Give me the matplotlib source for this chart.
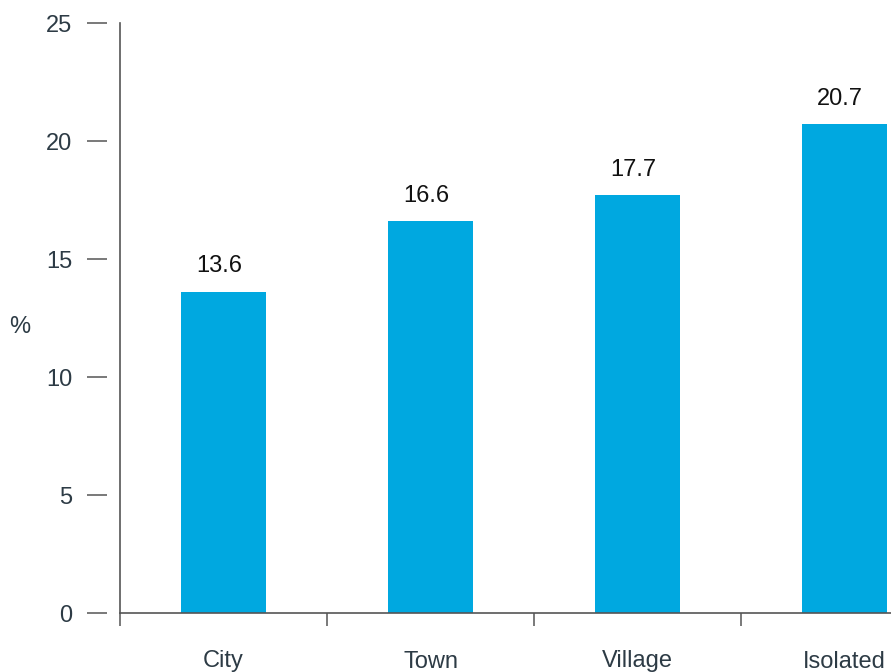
import matplotlib
matplotlib.use("Agg")
import matplotlib.pyplot as plt
import numpy as np

categories = ["City", "Town", "Village", "Isolated"]
values = [13.6, 16.6, 17.7, 20.7]
yticks = [0, 5, 10, 15, 20, 25]

plt.rcParams['font.family'] = ['Liberation Sans', 'DejaVu Sans']

BAR = "#00a8e0"
AXC = "#555555"
TXT = "#2d3b45"
FS = 17

fig = plt.figure(figsize=(8.91, 6.72), dpi=100)
ax = fig.add_axes([120/891, (672-613)/672, 771/891, (613-23)/672])

x = np.arange(len(categories))
ax.bar(x, values, width=0.41, color=BAR, zorder=2)

for xi, v in zip(x, values):
    ax.annotate(f"{v:.1f}", (xi, v), xytext=(-3, 18.5), textcoords="offset points",
                ha="center", va="center", fontsize=FS, color="#111111")

ax.set_xlim(-0.5, -0.5 + 771/207)
ax.set_ylim(0, 25)

# y axis: ticks offset from the visible axis line
ax.spines['left'].set_position(('outward', 9.4))
ax.spines['left'].set_color('none')
ax.axvline(-0.5, color=AXC, lw=1.2, clip_on=False, zorder=3)
ax.set_yticks(yticks)
ax.tick_params(axis='y', direction='out', length=14.5, width=1.1, color=AXC,
               labelsize=FS, labelcolor=TXT, pad=10.5)

ax.spines['top'].set_visible(False)
ax.spines['right'].set_visible(False)
ax.spines['bottom'].set_color(AXC)
ax.spines['bottom'].set_linewidth(1.2)

ax.set_xticks([-0.5, 0.5, 1.5, 2.5])
ax.set_xticklabels([])
ax.tick_params(axis='x', which='major', direction='out', length=9, width=1.1, color=AXC)
ax.set_xticks(x, minor=True)
ax.set_xticklabels(categories, minor=True)
ax.tick_params(axis='x', which='minor', length=0, pad=27, labelsize=FS, labelcolor=TXT)

fig.text(20/891, 1 - 327/672, "%", ha="center", va="center", fontsize=FS, color=TXT)

fig.savefig("out.png", dpi=100)
